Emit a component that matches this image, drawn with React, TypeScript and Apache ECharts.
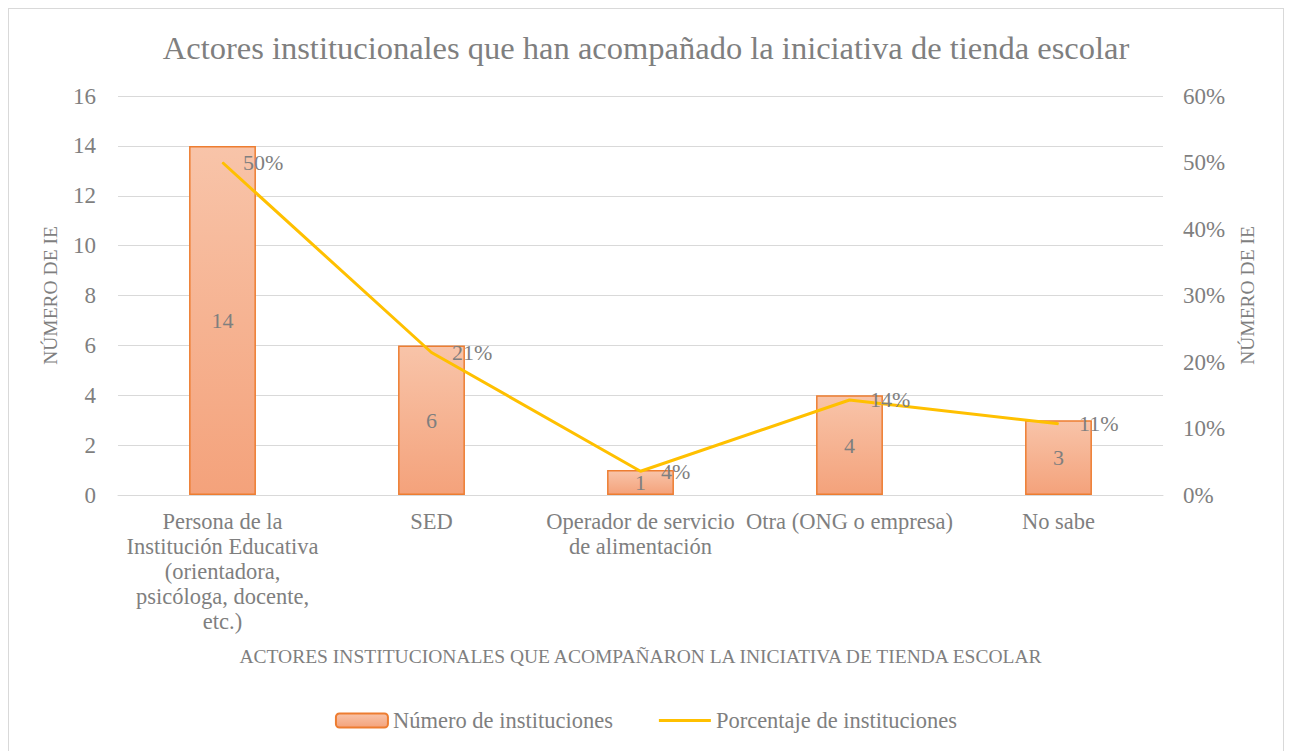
import React, { useEffect, useRef } from "react";
import * as echarts from "echarts";

const categories = [
  "Persona de la\nInstitución Educativa\n(orientadora,\npsicóloga, docente,\netc.)",
  "SED",
  "Operador de servicio\nde alimentación",
  "Otra (ONG o empresa)",
  "No sabe",
];
const counts = [14, 6, 1, 4, 3];
const percents = [0.5, 0.2143, 0.0357, 0.1429, 0.1071];
const leftTicks = [0, 2, 4, 6, 8, 10, 12, 14, 16];
const rightTicks = [0, 0.1, 0.2, 0.3, 0.4, 0.5, 0.6];

const FONT = "'Liberation Serif', serif";
const TEXT = "#7f7f7f";

export default function App() {
  const ref = useRef<HTMLDivElement>(null);
  useEffect(() => {
    if (!ref.current) return;
    const chart = echarts.init(ref.current, undefined, { renderer: "svg" });
    const barFill = new echarts.graphic.LinearGradient(0, 0, 0, 1, [
      { offset: 0, color: "#f8c4a9" },
      { offset: 1, color: "#f4a27b" },
    ]);
    chart.setOption({
      animation: false,
      textStyle: { fontFamily: FONT, color: TEXT },
      title: {
        text: "Actores institucionales que han acompañado la iniciativa de tienda escolar",
        left: "center",
        top: 17,
        textStyle: { fontFamily: FONT, fontSize: 32.5, fontWeight: "normal", color: TEXT },
      },
      grid: { left: 109, right: 120, top: 87, bottom: 262, containLabel: false },
      legend: {
        bottom: 20,
        left: "center",
        itemWidth: 52,
        itemHeight: 14,
        itemGap: 46,
        textStyle: { fontFamily: FONT, fontSize: 22.5, color: TEXT },
        data: [
          { name: "Número de instituciones" },
          { name: "Porcentaje de instituciones", icon: "path://M0,0H52V3H0Z" },
        ],
      },
      xAxis: {
        type: "category",
        data: categories,
        name: "ACTORES INSTITUCIONALES QUE ACOMPAÑARON LA INICIATIVA DE TIENDA ESCOLAR",
        nameLocation: "middle",
        nameGap: 151,
        nameTextStyle: { fontFamily: FONT, fontSize: 19.5, color: TEXT },
        axisLine: { lineStyle: { color: "#d9d9d9" } },
        axisTick: { show: false },
        axisLabel: {
          interval: 0,
          fontFamily: FONT,
          fontSize: 22.5,
          lineHeight: 25,
          color: TEXT,
          margin: 14,
          verticalAlign: "top",
        },
      },
      yAxis: [
        {
          type: "value",
          min: leftTicks[0],
          max: leftTicks[leftTicks.length - 1],
          interval: 2,
          name: "NÚMERO DE IE",
          nameLocation: "middle",
          nameGap: 58,
          nameRotate: 90,
          nameTextStyle: { fontFamily: FONT, fontSize: 19.5, color: TEXT },
          axisLine: { show: false },
          axisTick: { show: false },
          axisLabel: { fontFamily: FONT, fontSize: 23, color: TEXT, margin: 22 },
          splitLine: { lineStyle: { color: "#d9d9d9", width: 1 } },
        },
        {
          type: "value",
          min: rightTicks[0],
          max: rightTicks[rightTicks.length - 1],
          interval: 0.1,
          name: "NÚMERO DE IE",
          nameLocation: "middle",
          nameGap: 74,
          nameRotate: 90,
          nameTextStyle: { fontFamily: FONT, fontSize: 19.5, color: TEXT },
          axisLine: { show: false },
          axisTick: { show: false },
          axisLabel: {
            fontFamily: FONT,
            fontSize: 23,
            color: TEXT,
            margin: 20,
            formatter: (v: number) => Math.round(v * 100) + "%",
          },
          splitLine: { show: false },
        },
      ],
      series: [
        {
          name: "Número de instituciones",
          type: "bar",
          data: counts,
          barWidth: "32%",
          itemStyle: { color: barFill, borderColor: "#ed7d31", borderWidth: 1.5 },
          label: {
            show: true,
            position: "inside",
            fontFamily: FONT,
            fontSize: 22,
            color: TEXT,
          },
        },
        {
          name: "Porcentaje de instituciones",
          type: "line",
          yAxisIndex: 1,
          data: percents,
          symbol: "circle",
          symbolSize: 1,
          itemStyle: { color: "#ffc000" },
          lineStyle: { color: "#ffc000", width: 3 },
          label: {
            show: true,
            position: "right",
            distance: 20,
            fontFamily: FONT,
            fontSize: 22,
            color: TEXT,
            formatter: (p: any) => Math.round(p.value * 100) + "%",
          },
        },
      ],
    });
    return () => chart.dispose();
  }, []);
  return (
    <div
      style={{
        width: 1276,
        height: 750,
        border: "1px solid #d9d9d9",
        boxSizing: "border-box",
        background: "#fff",
      }}
    >
      <div ref={ref} style={{ width: 1274, height: 748 }} />
    </div>
  );
}
